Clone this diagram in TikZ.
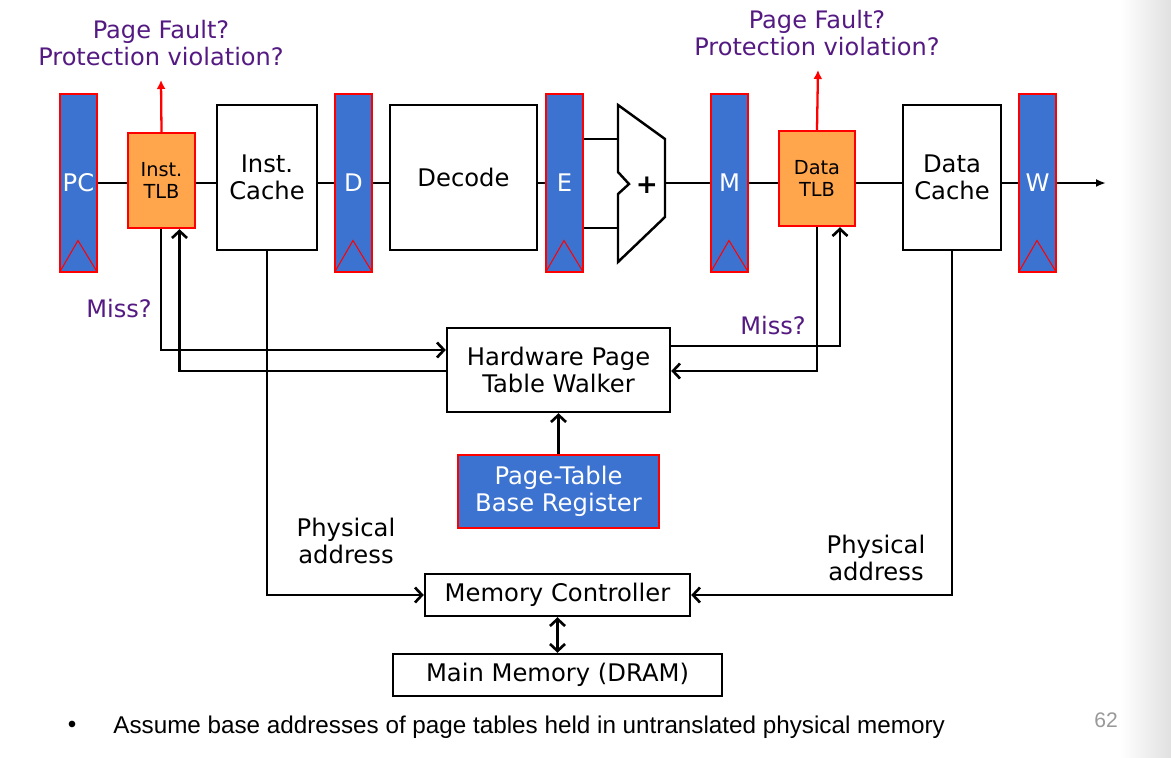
\documentclass[tikz,border=0pt]{standalone}
\usepackage{fontspec}
\setmainfont{DejaVu Sans}
\newfontfamily\slidefont{Liberation Sans}
\usetikzlibrary{positioning,arrows.meta,calc}
\definecolor{regblue}{RGB}{61,115,208}
\definecolor{tlborange}{RGB}{255,166,77}
\definecolor{qpurple}{RGB}{84,26,130}

\begin{document}
\begin{tikzpicture}[
      x=0.02cm, y=-0.02cm,
      font=\fontsize{13.8}{15.2}\selectfont,
      reg/.style={draw=red, line width=0.6pt, fill=regblue, text=white, minimum width=0.74cm, minimum height=3.56cm, inner sep=0pt},
      box/.style={draw, line width=1.4pt, rectangle, align=center, inner sep=0pt},
      tlb/.style={box, draw=red, fill=tlborange, font=\fontsize{11}{12.5}\selectfont, minimum height=1.9cm},
      blk/.style={box, fill=regblue, draw=red, text=white},
      wire/.style={line width=1.5pt},
      arr/.style={wire, -{Straight Barb[length=1.4mm,width=3mm]}},
      darr/.style={wire, {Straight Barb[length=1.4mm,width=3mm]}-{Straight Barb[length=1.4mm,width=3mm]}},
      fault/.style={draw=red, line width=1.3pt, -{Latex[length=1.8mm,width=1.8mm]}},
      note/.style={text=qpurple, align=center, font=\fontsize{13.7}{15}\selectfont},
    ]
    \useasboundingbox (0,0) rectangle (1171,758);
    \shade[left color=white, right color=black!12] (1120,0) rectangle (1171,758);

    % pipeline registers
    \foreach \n/\x in {PC/78.5, D/353.5, E/564.5, M/729.5, W/1037.5} {
      \node[reg] (\n) at (\x,183) {\n};
      \draw[red, line width=0.6pt] (\n.south west) -- ++(18.5,-32) -- (\n.south east);
    }

    % units
    \node[tlb, minimum width=1.34cm] (ITLB) at (161.5,180.5) {Inst.\\TLB};
    \node[box, minimum width=2cm, minimum height=2.9cm] (ICache) at (267,177.5) {Inst.\\Cache};
    \node[box, minimum width=2.94cm, minimum height=2.9cm] (Decode) at (463.5,177.5) {Decode};
    \node[tlb, minimum width=1.52cm] (DTLB) at (817,178.5) {Data\\TLB};
    \node[box, minimum width=1.96cm, minimum height=2.9cm] (DCache) at (952,177.5) {Data\\Cache};

    % adder
    \draw[line width=1.4pt, line join=miter] (618,105) -- (665,139) -- (665,217) -- (618,262) -- (618,194) -- (629,184) -- (618,172) -- cycle;
    \node[font=\bfseries\fontsize{15}{15}\selectfont] (plus) at (647,185) {+};
    \coordinate (addA) at (618,139);
    \coordinate (addB) at (618,228);
    \coordinate (addO) at (665,183);
    \coordinate (out) at (1106,183);

    % walker and memory
    \node[box, minimum width=4.46cm, minimum height=1.68cm] (HPTW) at (558.5,370) {Hardware Page\\Table Walker};
    \node[blk, minimum width=4.02cm, minimum height=1.46cm] (PTBR) at (558.5,491.5) {Page-Table\\Base Register};
    \node[box, minimum width=5.3cm, minimum height=0.84cm] (MC) at (557.5,595) {Memory Controller};
    \node[box, minimum width=6.58cm, minimum height=0.84cm] (MM) at (557.5,675) {Main Memory (DRAM)};

    % labels
    \coordinate (pfI) at (161,80);
    \coordinate (pfD) at (818,70);
    \node[note] (faultI) at (161,43) {Page Fault?\\Protection violation?};
    \node[note] (faultD) at (817,33) {Page Fault?\\Protection violation?};
    \node[note] (missI) at (119,309) {Miss?};
    \node[note] (missD) at (773,326) {Miss?};
    \node[align=center] (paI) at (346,541) {Physical\\address};
    \node[align=center] (paD) at (876,558) {Physical\\address};

    % datapath
    \draw[wire] (PC.east) -- (ITLB.west |- PC);
    \draw[wire] (ITLB.east |- PC) -- (ICache.west |- PC);
    \draw[wire] (ICache.east |- PC) -- (D.west);
    \draw[wire] (D.east) -- (Decode.west |- PC);
    \draw[wire] (Decode.east |- PC) -- (E.west);
    \draw[wire] (E.east |- addA) -- (addA);
    \draw[wire] (E.east |- addB) -- (addB);
    \draw[wire] (addO) -- (M.west);
    \draw[wire] (M.east) -- (DTLB.west |- M);
    \draw[wire] (DTLB.east |- M) -- (DCache.west |- M);
    \draw[wire] (DCache.east |- M) -- (W.west);
    \draw[wire, -{Latex[length=2mm,width=1.6mm]}] (W.east) -- (out);
    \draw[fault] (ITLB.north) -- (pfI);
    \draw[fault] (DTLB.north) -- (pfD);

    % miss handling
    \draw[arr] ($(ITLB.south)+(-0.5,0)$) |- ($(HPTW.west)+(0,-20)$);
    \draw[arr] ($(HPTW.west)+(0,1)$) -| ($(ITLB.south)+(18,0)$);
    \draw[arr] (DTLB.south) |- ($(HPTW.east)+(0,1)$);
    \draw[arr] ($(HPTW.east)+(0,-24)$) -| ($(DTLB.south)+(23,0)$);
    \draw[arr] (PTBR) -- (HPTW);
    \draw[arr] (ICache.south) |- (MC.west);
    \draw[arr] (DCache.south) |- (MC.east);
    \draw[darr] (MC) -- (MM);

    % slide footer
    \node[font=\slidefont\fontsize{13.8}{16}\selectfont] (bullet) at (72,727) {•};
    \node[font=\slidefont\fontsize{13.8}{16}\selectfont, anchor=west, inner sep=0pt] (remark) at (113,727) {Assume base addresses of page tables held in untranslated physical memory};
    \node[font=\slidefont\fontsize{12}{12}\selectfont, text=black!40] (pageno) at (1106,720) {62};
  \end{tikzpicture}
\end{document}
